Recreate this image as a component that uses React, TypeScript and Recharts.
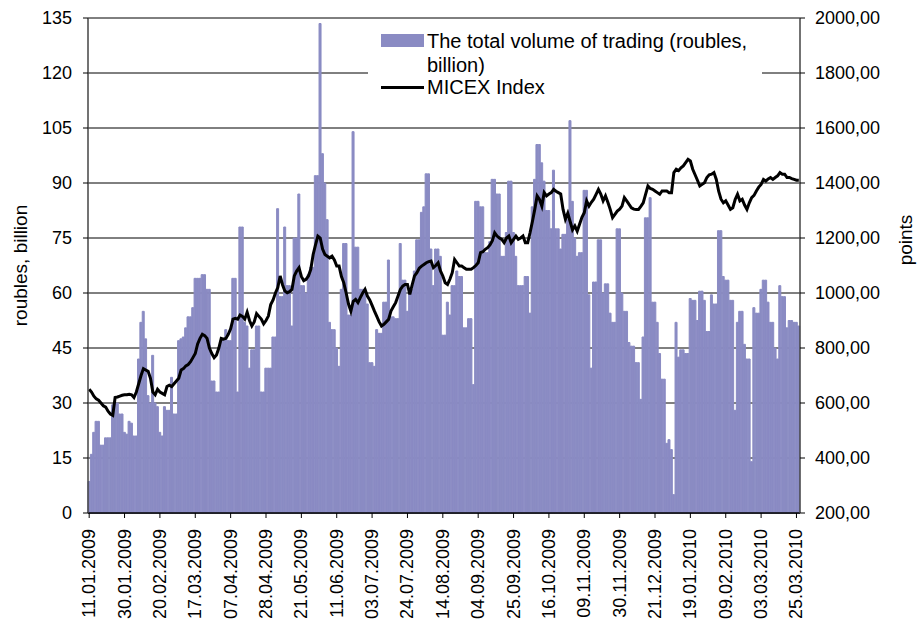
import React from 'react';
import { ComposedChart, Bar, Line, XAxis, YAxis, CartesianGrid, Legend } from 'recharts';

const TICK_LABELS = [
  '11.01.2009', '30.01.2009', '20.02.2009', '17.03.2009', '07.04.2009', '28.04.2009',
  '21.05.2009', '11.06.2009', '03.07.2009', '24.07.2009', '14.08.2009', '04.09.2009',
  '25.09.2009', '16.10.2009', '09.11.2009', '30.11.2009', '21.12.2009', '19.01.2010',
  '09.02.2010', '03.03.2010', '25.03.2010',
];

const LEFT_TICKS = [0, 15, 30, 45, 60, 75, 90, 105, 120, 135];
const RIGHT_TICKS = [200, 400, 600, 800, 1000, 1200, 1400, 1600, 1800, 2000];

// daily trading volume, roubles billion
const VOLUME = [
  8.6, 16, 22, 25, 25, 18.5, 18.5, 20.5, 20.5, 20.5,
  29.5, 30, 30, 27, 27, 22, 21.5, 25, 24.5, 21,
  21, 42, 52, 55, 47.5, 32, 30, 43, 30, 29,
  22, 21, 29, 28, 28, 37, 27, 27, 47, 47.5,
  48, 50.5, 53.5, 53.5, 56, 64, 64, 64, 65, 65,
  61, 61, 36, 36, 33, 33, 47, 47, 50, 47,
  47, 64, 64, 33, 78, 78, 52, 51, 39.5, 44.5,
  44.5, 51, 51, 33, 33, 39.5, 39.5, 39.5, 48, 48,
  83, 59, 59, 78, 62, 62, 51, 75, 75, 87,
  62, 62, 60, 65, 67, 67, 92, 92, 133.5, 98,
  90, 80, 52, 50, 50, 45, 40, 61, 73.5, 73.5,
  54, 54, 104, 72.5, 72.5, 61, 61, 61, 57, 41,
  41, 40, 50, 49, 49, 57.5, 57.5, 69, 53.5, 53.5,
  53, 53, 73.5, 63.5, 63.5, 55, 61, 61, 66, 74.5,
  74.5, 82, 83.5, 92.5, 92.5, 72, 62, 72, 72, 70,
  48.5, 48.5, 57.5, 54, 62, 62, 66, 64.5, 64.5, 50.5,
  50.5, 53, 53, 35, 85, 85, 83.5, 83.5, 71, 71,
  74, 91, 91, 87, 87, 70, 70, 76.5, 90.5, 90.5,
  76.5, 70, 62, 62, 62, 64.5, 64.5, 54.5, 83.5, 91,
  100.5, 100.5, 95.5, 90.5, 82.5, 82.5, 77.5, 93.5, 77.5, 77.5,
  72, 76, 76, 80, 107, 85, 75, 70, 71, 71,
  88, 88, 59.5, 39.5, 63, 63, 74.5, 74.5, 60, 62.5,
  62.5, 54.5, 52, 52, 77.5, 77.5, 60, 55, 55, 46.5,
  45.5, 45.5, 41, 41, 31, 48, 80.5, 80.5, 86, 57.5,
  57.5, 52, 43.5, 36.5, 36.5, 19, 20, 17.3, 5, 52,
  42.5, 44.5, 44.5, 43.5, 43.5, 58.5, 58, 58, 52.5, 60.5,
  60.5, 58, 49.5, 49.5, 59.5, 57, 57, 77, 77, 64.5,
  63.5, 63.5, 58, 58, 28, 52, 55, 55, 46, 42,
  42, 14, 56, 54.5, 54.5, 61, 63.5, 63.5, 57.5, 52,
  52, 45, 42, 62, 59, 59, 50.5, 52.5, 52.5, 52,
  52, 51,
];

// MICEX index, points
const MICEX = [
  650, 640, 625, 615, 610, 600, 590, 585, 570, 560,
  555, 620, 622, 625, 628, 630, 630, 632, 630, 620,
  640, 670, 700, 725, 720, 715, 690, 640, 630, 650,
  640, 635, 630, 660, 665, 660, 670, 680, 690, 720,
  725, 735, 740, 750, 765, 780, 815, 835, 850, 845,
  835, 800, 780, 765, 775, 800, 835, 832, 835, 850,
  870, 905, 908, 905, 920, 915, 905, 930, 900, 880,
  895, 925, 915, 905, 888, 900, 916, 958, 975, 1000,
  1020, 1062, 1030, 1007, 1001, 1005, 1013, 1062, 1080, 1092,
  1060, 1045, 1050, 1062, 1086, 1140, 1175, 1207, 1200, 1160,
  1140, 1134, 1128, 1134, 1120, 1098, 1098, 1060, 1037, 1000,
  960, 934, 970, 977, 965, 983, 1000, 1013, 989, 975,
  955, 934, 915, 895, 880, 886, 895, 904, 934, 950,
  965, 989, 1013, 1025, 1031, 1031, 995, 1030, 1062, 1074,
  1090, 1098, 1104, 1110, 1114, 1116, 1092, 1100, 1110, 1080,
  1062, 1037, 1031, 1050, 1074, 1122, 1110, 1098, 1098, 1092,
  1086, 1086, 1086, 1092, 1100, 1110, 1147, 1150, 1159, 1165,
  1175, 1190, 1219, 1207, 1200, 1195, 1183, 1200, 1207, 1183,
  1195, 1207, 1195, 1200, 1207, 1183, 1183, 1219, 1260, 1304,
  1353, 1340, 1316, 1365, 1353, 1360, 1365, 1377, 1370, 1365,
  1360, 1304, 1268, 1290, 1260, 1230, 1244, 1225, 1250, 1275,
  1292, 1335, 1316, 1330, 1341, 1359, 1377, 1360, 1335, 1353,
  1330, 1304, 1274, 1286, 1298, 1305, 1316, 1347, 1335, 1322,
  1310, 1305, 1304, 1304, 1315, 1328, 1359, 1389, 1380, 1377,
  1371, 1365, 1359, 1371, 1371, 1371, 1365, 1365, 1438, 1450,
  1445, 1455, 1462, 1474, 1486, 1480, 1450, 1430, 1410, 1389,
  1395, 1401, 1420, 1430, 1432, 1438, 1413, 1370, 1341, 1328,
  1335, 1320, 1304, 1310, 1340, 1359, 1335, 1341, 1320, 1304,
  1328, 1347, 1355, 1371, 1385, 1395, 1413, 1407, 1415, 1420,
  1413, 1420, 1426, 1438, 1432, 1432, 1420, 1420, 1416, 1413,
  1410, 1410,
];

const data = VOLUME.map((v, i) => ({ i, volume: v, micex: MICEX[i] }));

const FONT = '"Liberation Sans", Arial, sans-serif';
const BAR_COLOR = '#8A8BC3';

const XTick = (props: any) => {
  const { x, y, payload } = props;
  const label = TICK_LABELS[Math.round(payload.value / 15)] ?? '';
  const ty = y + 9;
  return (
    <text
      x={x}
      y={ty}
      transform={`rotate(-90 ${x} ${ty})`}
      textAnchor="end"
      dominantBaseline="central"
      fontSize={18}
      fontFamily={FONT}
      fill="#000"
    >
      {label}
    </text>
  );
};

const LegendContent = () => (
  <div
    style={{
      background: '#fff',
      width: 394,
      height: 72,
      position: 'relative',
      fontFamily: FONT,
      fontSize: 20,
      color: '#000',
    }}
  >
    <div style={{ position: 'absolute', left: 13, top: 6, width: 43, height: 13, background: BAR_COLOR }} />
    <div style={{ position: 'absolute', left: 59, top: 1, width: 335, lineHeight: '24px' }}>
      The total volume of trading (roubles, billion)
    </div>
    <div style={{ position: 'absolute', left: 13, top: 58, width: 43, height: 3, background: '#000' }} />
    <div style={{ position: 'absolute', left: 59, top: 48, lineHeight: '22px', whiteSpace: 'nowrap' }}>
      MICEX Index
    </div>
  </div>
);

const LeftTitle = (props: any) => {
  const vb = props.viewBox;
  const cx = vb.x + 20;
  const cy = vb.y + vb.height / 2;
  return (
    <text x={cx} y={cy} transform={`rotate(-90 ${cx} ${cy})`} textAnchor="middle" dominantBaseline="central" fontSize={19} fontFamily={FONT} fill="#000">
      roubles, billion
    </text>
  );
};

const RightTitle = (props: any) => {
  const vb = props.viewBox;
  const cx = vb.x + 105;
  const cy = 240;
  return (
    <text x={cx} y={cy} transform={`rotate(-90 ${cx} ${cy})`} textAnchor="middle" dominantBaseline="central" fontSize={19} fontFamily={FONT} fill="#000">
      points
    </text>
  );
};

export default function App() {
  return (
    <div style={{ position: 'absolute', left: 0, top: 0, width: 924, height: 626, background: '#fff' }}>
      <ComposedChart
        width={924}
        height={626}
        data={data}
        margin={{ top: 18, right: 0, bottom: 0, left: 0 }}
        barCategoryGap={0}
        barGap={0}
      >
        <CartesianGrid yAxisId="left" vertical={false} stroke="#000" strokeWidth={1} />
        <XAxis
          dataKey="i"
          interval={14}
          height={113}
          tick={<XTick />}
          tickSize={5}
          tickLine={{ stroke: '#000' }}
          axisLine={{ stroke: '#000', strokeWidth: 1.5 }}
        />
        <YAxis
          yAxisId="left"
          domain={[0, 135]}
          ticks={LEFT_TICKS}
          width={88}
          tickSize={5}
          tickMargin={11}
          tick={{ fontSize: 18, fontFamily: FONT, fill: '#000' }}
          tickLine={{ stroke: '#000' }}
          axisLine={{ stroke: '#444', strokeWidth: 1.5 }}
          label={<LeftTitle />}
        />
        <YAxis
          yAxisId="right"
          orientation="right"
          domain={[200, 2000]}
          ticks={RIGHT_TICKS}
          width={124}
          tickSize={5}
          tickMargin={10}
          tickFormatter={(v: number) => v.toFixed(2).replace('.', ',')}
          tick={{ fontSize: 18, fontFamily: FONT, fill: '#000' }}
          tickLine={{ stroke: '#000' }}
          axisLine={{ stroke: '#444', strokeWidth: 1.5 }}
          label={<RightTitle />}
        />
        <Bar
          yAxisId="left"
          dataKey="volume"
          fill={BAR_COLOR}
          stroke={BAR_COLOR}
          strokeWidth={1}
          isAnimationActive={false}
        />
        <Line
          yAxisId="right"
          type="linear"
          dataKey="micex"
          stroke="#000"
          strokeWidth={3}
          dot={false}
          activeDot={false}
          isAnimationActive={false}
        />
        <Legend
          layout="vertical"
          align="center"
          verticalAlign="middle"
          content={<LegendContent />}
          wrapperStyle={{ position: 'absolute', left: 368, top: 28, width: 394, height: 72 }}
        />
      </ComposedChart>
    </div>
  );
}
